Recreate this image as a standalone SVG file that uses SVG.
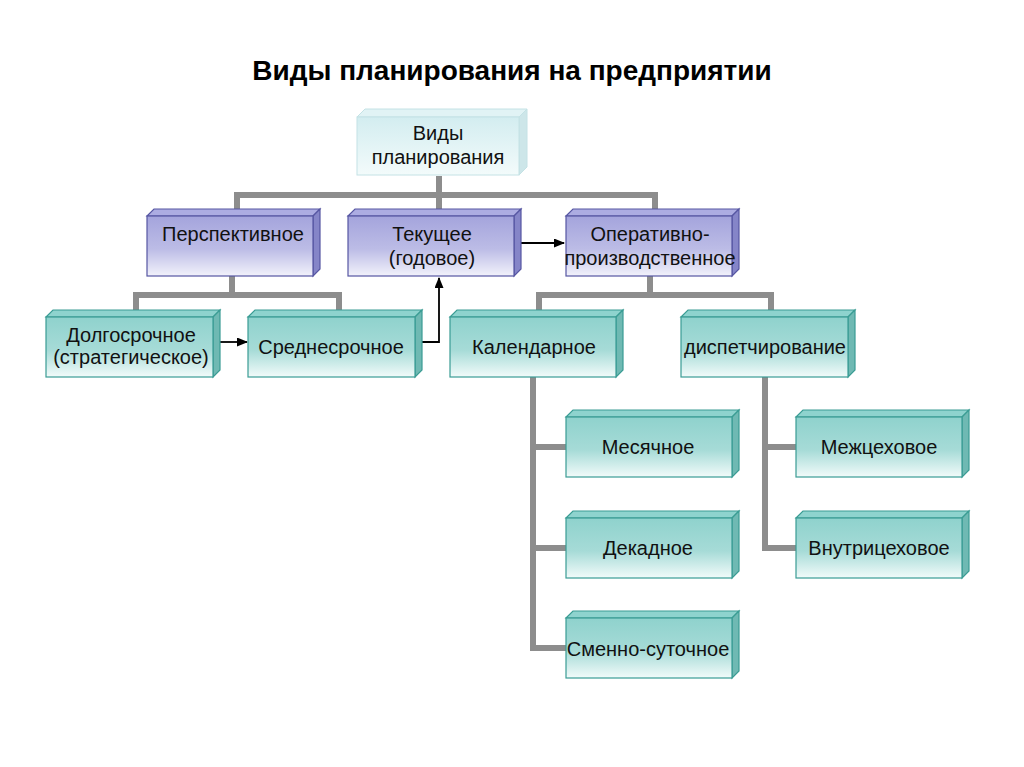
<svg xmlns="http://www.w3.org/2000/svg" width="1024" height="767" viewBox="0 0 1024 767">
<defs>
<linearGradient id="gT" x1="0" y1="0" x2="0" y2="1">
<stop offset="0" stop-color="#8fd2cd"/><stop offset="0.55" stop-color="#a6dbd7"/><stop offset="1" stop-color="#f2fbfa"/>
</linearGradient>
<linearGradient id="gP" x1="0" y1="0" x2="0" y2="1">
<stop offset="0" stop-color="#a4a4dc"/><stop offset="0.55" stop-color="#bcbce6"/><stop offset="1" stop-color="#f2f2fb"/>
</linearGradient>
<linearGradient id="gL" x1="0" y1="0" x2="0" y2="1">
<stop offset="0" stop-color="#d3edf0"/><stop offset="1" stop-color="#f3fbfb"/>
</linearGradient>
<marker id="ah" markerWidth="11" markerHeight="9" refX="10" refY="4.5" orient="auto" markerUnits="userSpaceOnUse">
<path d="M0,0 L11,4.5 L0,9 Z" fill="#000"/>
</marker>
</defs>
<style>
.t{font-family:"Liberation Sans",Arial,sans-serif;font-size:20px;fill:#111;text-anchor:middle}
.title{font-family:"Liberation Sans",Arial,sans-serif;font-size:28px;font-weight:bold;fill:#000;text-anchor:middle}
.teal .f{fill:url(#gT);stroke:#3a9c94;stroke-width:1.2}
.teal .tp{fill:#8ed3ce;stroke:#3a9c94;stroke-width:1.2}
.teal .sd{fill:#6fb9b3;stroke:#3a9c94;stroke-width:1.2}
.purp .f{fill:url(#gP);stroke:#5656a2;stroke-width:1.2}
.purp .tp{fill:#acace2;stroke:#5656a2;stroke-width:1.2}
.purp .sd{fill:#8585c8;stroke:#5656a2;stroke-width:1.2}
.lite .f{fill:url(#gL);stroke:#c4e2e5;stroke-width:1}
.lite .tp{fill:#e1f3f5;stroke:#c4e2e5;stroke-width:1}
.lite .sd{fill:#cde6e9;stroke:#c4e2e5;stroke-width:1}
.g{fill:none;stroke:#8d8d8d;stroke-width:6}
.a{fill:none;stroke:#000;stroke-width:1.8}
</style>
<rect width="1024" height="767" fill="#fff"/>
<text class="title" x="512" y="80">Виды планирования на предприятии</text>

<g id="connectors">
<path class="g" d="M439,176 V195 M237,212 V195 H655 V212 M439,195 V212"/>
<path class="g" d="M232,276 V295 M136,313 V295 H339 V313"/>
<path class="g" d="M650,276 V295 M539,313 V295 H771 V313"/>
<path class="g" d="M533,377 V648 H566 M533,447 H566 M533,548 H566"/>
<path class="g" d="M765,377 V548 H796 M765,447 H796"/>
<path class="a" d="M220,342 H247" marker-end="url(#ah)"/>
<path class="a" d="M422,342 H439 V278" marker-end="url(#ah)"/>
<path class="a" d="M521,243 H564" marker-end="url(#ah)"/>
</g>

<g id="n-vidy" class="lite">
<polygon class="tp" points="357,117 365,109 527,109 519,117"/>
<polygon class="sd" points="519,117 527,109 527,167 519,175"/>
<rect class="f" x="357" y="117" width="162" height="58"/>
<text class="t" x="438" y="140">Виды</text>
<text class="t" x="438" y="164">планирования</text>
</g>

<g id="n-persp" class="purp">
<polygon class="tp" points="147,216 154,209 320,209 313,216"/>
<polygon class="sd" points="313,216 320,209 320,269 313,276"/>
<rect class="f" x="147" y="216" width="166" height="60"/>
<text class="t" x="233" y="241">Перспективное</text>
</g>

<g id="n-tek" class="purp">
<polygon class="tp" points="348,216 355,209 521,209 514,216"/>
<polygon class="sd" points="514,216 521,209 521,269 514,276"/>
<rect class="f" x="348" y="216" width="166" height="60"/>
<text class="t" x="432" y="241">Текущее</text>
<text class="t" x="432" y="265">(годовое)</text>
</g>

<g id="n-oper" class="purp">
<polygon class="tp" points="566,216 573,209 739,209 732,216"/>
<polygon class="sd" points="732,216 739,209 739,269 732,276"/>
<rect class="f" x="566" y="216" width="166" height="60"/>
<text class="t" x="650" y="241">Оперативно-</text>
<text class="t" x="650" y="265">производственное</text>
</g>

<g id="n-dolg" class="teal">
<polygon class="tp" points="46,317 53,310 220,310 213,317"/>
<polygon class="sd" points="213,317 220,310 220,370 213,377"/>
<rect class="f" x="46" y="317" width="167" height="60"/>
<text class="t" x="131" y="342">Долгосрочное</text>
<text class="t" x="131" y="364">(стратегическое)</text>
</g>

<g id="n-sred" class="teal">
<polygon class="tp" points="248,317 255,310 422,310 415,317"/>
<polygon class="sd" points="415,317 422,310 422,370 415,377"/>
<rect class="f" x="248" y="317" width="167" height="60"/>
<text class="t" x="331" y="354">Среднесрочное</text>
</g>

<g id="n-kal" class="teal">
<polygon class="tp" points="450,317 457,310 623,310 616,317"/>
<polygon class="sd" points="616,317 623,310 623,370 616,377"/>
<rect class="f" x="450" y="317" width="166" height="60"/>
<text class="t" x="534" y="354">Календарное</text>
</g>

<g id="n-disp" class="teal">
<polygon class="tp" points="681,317 688,310 855,310 848,317"/>
<polygon class="sd" points="848,317 855,310 855,370 848,377"/>
<rect class="f" x="681" y="317" width="167" height="60"/>
<text class="t" x="765" y="354">диспетчирование</text>
</g>

<g id="n-mes" class="teal">
<polygon class="tp" points="566,417 573,410 739,410 732,417"/>
<polygon class="sd" points="732,417 739,410 739,470 732,477"/>
<rect class="f" x="566" y="417" width="166" height="60"/>
<text class="t" x="648" y="454">Месячное</text>
</g>

<g id="n-dek" class="teal">
<polygon class="tp" points="566,518 573,511 739,511 732,518"/>
<polygon class="sd" points="732,518 739,511 739,571 732,578"/>
<rect class="f" x="566" y="518" width="166" height="60"/>
<text class="t" x="648" y="555">Декадное</text>
</g>

<g id="n-smen" class="teal">
<polygon class="tp" points="566,618 573,611 739,611 732,618"/>
<polygon class="sd" points="732,618 739,611 739,671 732,678"/>
<rect class="f" x="566" y="618" width="166" height="60"/>
<text class="t" x="648" y="656">Сменно-суточное</text>
</g>

<g id="n-mezh" class="teal">
<polygon class="tp" points="796,417 803,410 969,410 962,417"/>
<polygon class="sd" points="962,417 969,410 969,470 962,477"/>
<rect class="f" x="796" y="417" width="166" height="60"/>
<text class="t" x="879" y="454">Межцеховое</text>
</g>

<g id="n-vnut" class="teal">
<polygon class="tp" points="796,518 803,511 969,511 962,518"/>
<polygon class="sd" points="962,518 969,511 969,571 962,578"/>
<rect class="f" x="796" y="518" width="166" height="60"/>
<text class="t" x="879" y="555">Внутрицеховое</text>
</g>
</svg>
